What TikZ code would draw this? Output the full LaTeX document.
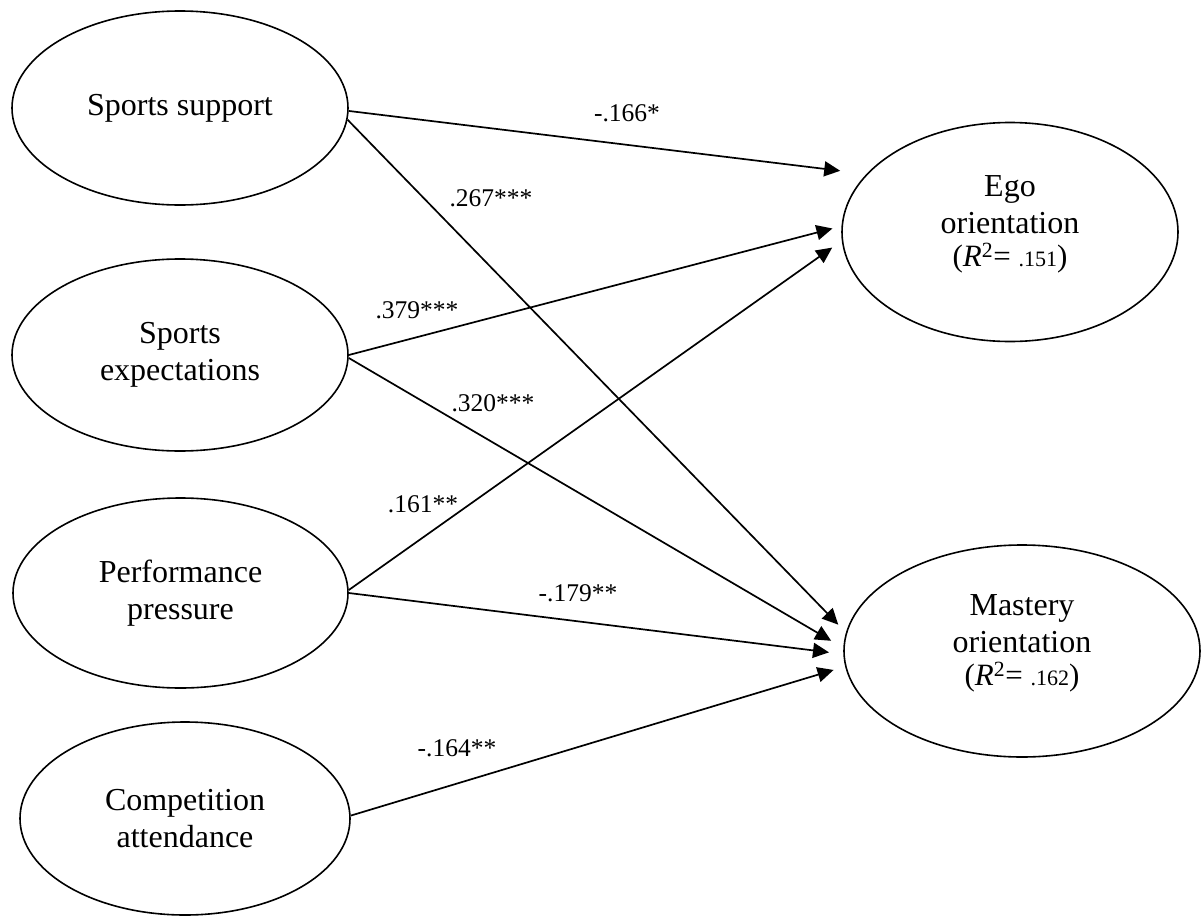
\documentclass[tikz,border=0pt]{standalone}
\usepackage{fontspec}
\setmainfont{Liberation Serif}
\usetikzlibrary{arrows.meta,shapes.geometric}
\newcommand{\rsq}[1]{{\fontsize{31}{33}\selectfont(\textit{R}\textsuperscript{2}= {\fontsize{22}{26}\selectfont #1})}}
\begin{document}
\begin{tikzpicture}[x=1pt,y=-1pt,
  ell/.style={draw,ellipse,line width=1.6pt,inner sep=0pt,align=center,
    font=\fontsize{32}{36.8}\selectfont},
  txt/.style={align=center,inner sep=0pt,font=\fontsize{32}{36.8}\selectfont},
  coef/.style={inner sep=0pt,font=\fontsize{25.5}{30}\selectfont},
  conn/.style={line width=1.7pt,-{Triangle[length=16pt,width=15pt]}},
]
\useasboundingbox (0,0) rectangle (1203,916);

% predictors
\node[ell,minimum width=336pt,minimum height=194pt] (ss) at (180,108) {Sports support};
\node[ell,minimum width=336pt,minimum height=192pt] (se) at (180,355) {Sports\\expectations};
\node[ell,minimum width=335pt,minimum height=190pt] (pp) at (180.5,593) {Performance\\pressure};
\node[ell,minimum width=330pt,minimum height=193pt] (ca) at (185,818.5) {Competition\\attendance};

% outcomes
\node[ell,minimum width=336pt,minimum height=219pt] (ego) at (1010,232) {};
\node[txt] (egot) at (1010,224) {Ego\\orientation\\[-3.8pt]\rsq{.151}};
\node[ell,minimum width=356pt,minimum height=212pt] (mo) at (1022,651) {};
\node[txt] (mot) at (1022,643.4) {Mastery\\orientation\\[-3.8pt]\rsq{.162}};

% paths
\draw[conn,shorten >=26.4pt] (ss.-1.7) -- (ego.158.4);
\draw[conn,shorten >=10.9pt] (ss.-4.1) -- (mo.174.1);
\draw[conn,shorten >=9.3pt]  (se.0.7)  -- (ego.178.9);
\draw[conn,shorten >=14pt]   (se.-1.7) -- (mo.179.4);
\draw[conn,shorten >=11.7pt] (pp.1.7)  -- (ego.183.2);
\draw[conn,shorten >=14.4pt] (pp.0.3)  -- (mo.181.9);
\draw[conn,shorten >=12pt]   (ca.1.2)  -- (mo.185.7);

% coefficients
\node[coef] (c1) at (627,113) {-.166*};
\node[coef] (c2) at (491,198) {.267***};
\node[coef] (c3) at (417,310) {.379***};
\node[coef] (c4) at (493,403) {.320***};
\node[coef] (c5) at (423,504) {.161**};
\node[coef] (c6) at (578,593) {-.179**};
\node[coef] (c7) at (457,748) {-.164**};
\end{tikzpicture}
\end{document}
